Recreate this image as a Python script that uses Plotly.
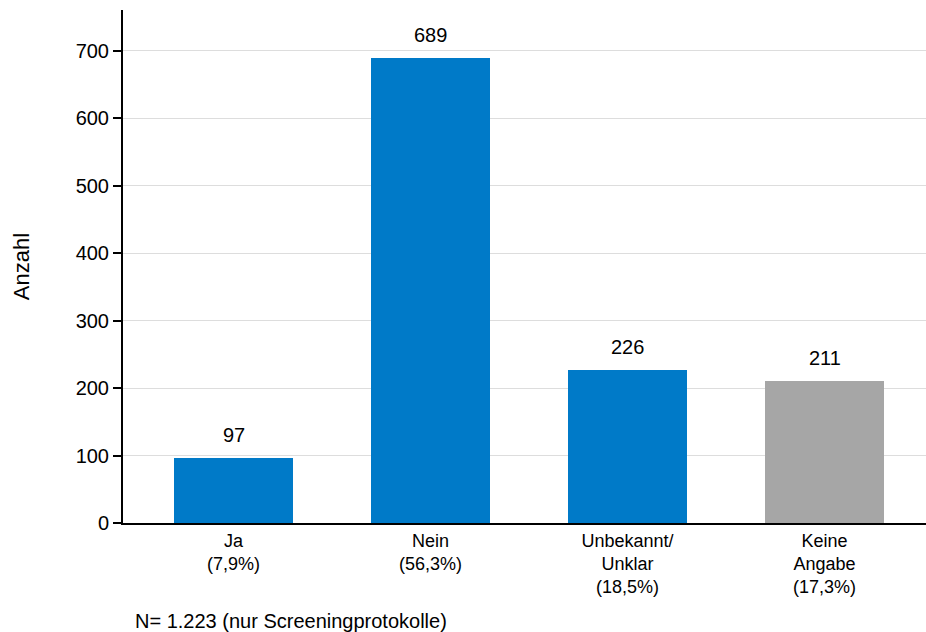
import plotly.graph_objects as go

# Data
categories = ["Ja<br>(7,9%)", "Nein<br>(56,3%)", "Unbekannt/<br>Unklar<br>(18,5%)", "Keine<br>Angabe<br>(17,3%)"]
counts = [97, 689, 226, 211]
bar_colors = ["#007AC8", "#007AC8", "#007AC8", "#A6A6A6"]
y_ticks = [0, 100, 200, 300, 400, 500, 600, 700]
footnote = "N= 1.223 (nur Screeningprotokolle)"

FONT = "Liberation Sans, Arial, sans-serif"

fig = go.Figure()
fig.add_trace(go.Bar(
    x=list(range(len(categories))),
    y=counts,
    marker=dict(color=bar_colors, line=dict(width=0)),
    width=0.604,
    hoverinfo="skip",
))

# value labels above bars
for i, v in enumerate(counts):
    fig.add_annotation(
        x=i, y=v, text=str(v), showarrow=False,
        yanchor="bottom", yshift=10,
        font=dict(family=FONT, size=20, color="#000000"),
    )

fig.add_annotation(
    xref="paper", yref="paper", x=(133 - 123) / 803, y=-0.191,
    xanchor="left", yanchor="middle", text=footnote, showarrow=False,
    font=dict(family=FONT, size=20, color="#000000"),
)

fig.update_layout(
    width=926, height=632,
    margin=dict(l=123, r=0, t=10, b=109),
    paper_bgcolor="white", plot_bgcolor="white",
    showlegend=False,
    font=dict(family=FONT, size=18, color="#000000"),
    bargap=0,
)
fig.update_xaxes(
    range=[-0.561, 3.515],
    tickmode="array", tickvals=list(range(len(categories))), ticktext=categories,
    showline=True, linecolor="#000000", linewidth=2,
    showgrid=False, ticks="", zeroline=False,
    tickfont=dict(family=FONT, size=18, color="#000000"),
)
fig.update_yaxes(
    range=[0, 760],
    tickmode="array", tickvals=y_ticks,
    showline=True, linecolor="#000000", linewidth=2,
    showgrid=True, gridcolor="#DDDDDD", gridwidth=1,
    ticks="outside", ticklen=8, tickwidth=2, tickcolor="#000000",
    zeroline=False,
    tickfont=dict(family=FONT, size=20, color="#000000"),
    title=dict(text="Anzahl", font=dict(family=FONT, size=22, color="#000000"), standoff=40),
)

fig.write_html("out.html")
